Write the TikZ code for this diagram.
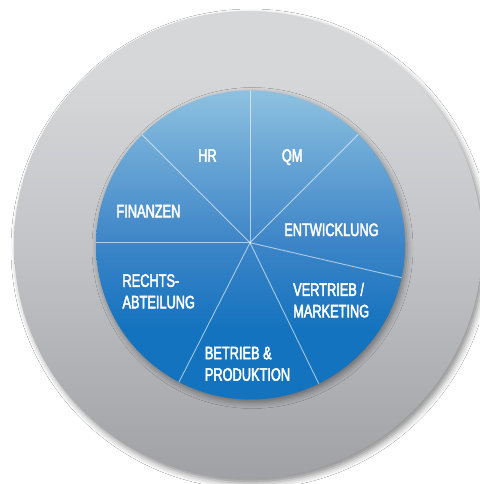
\documentclass[tikz,border=0pt]{standalone}
\usepackage{fontspec}
\setmainfont{Liberation Sans}[FakeStretch=0.71,FakeBold=2.5]
\usetikzlibrary{shadows.blur}
\definecolor{btop}{RGB}{142,193,224}
\definecolor{bupper}{RGB}{108,168,214}
\definecolor{bmid}{RGB}{60,132,199}
\definecolor{bbot}{RGB}{19,115,190}
\definecolor{gtop}{RGB}{214,215,217}
\definecolor{gmid}{RGB}{195,196,199}
\definecolor{gbot}{RGB}{160,161,165}
\pgfdeclareverticalshading{blueshade}{100bp}{color(0bp)=(bbot); color(25bp)=(bbot); color(36bp)=(bbot); color(50bp)=(bmid); color(65bp)=(bupper); color(75bp)=(btop); color(100bp)=(btop)}
\pgfdeclareverticalshading{grayshade}{100bp}{color(0bp)=(gbot); color(25bp)=(gbot); color(50bp)=(gmid); color(68bp)=(gtop); color(100bp)=(gtop)}
\begin{document}
\begin{tikzpicture}[x=1pt,y=-1pt,
  lbl/.style={text=white, inner sep=0pt, anchor=base west, align=left,
    font=\fontsize{18}{21.5}\selectfont},
  spoke/.style={draw=white, draw opacity=0.6, line width=0.9pt}]
\fill[white] (0,0) rectangle (479,484);
\useasboundingbox (0,0) rectangle (479,484);
\path[shading=grayshade, blur shadow={shadow xshift=3pt, shadow yshift=-4pt, shadow blur radius=6pt, shadow opacity=45}] (248,245) circle (234);
\path[shading=blueshade, blur shadow={shadow xshift=2pt, shadow yshift=-3pt, shadow blur radius=6pt, shadow opacity=40}] (250.5,245) circle (154.5);
\coordinate (ctr) at (250,242.7);
\begin{scope}
  \clip (250.5,245) circle (154.5);
  \foreach \a in {-90,-135,180,117,64,13,-45}
    \draw[spoke] (ctr) -- ++(\a:170);
\end{scope}
\node[lbl] (hr) at (198,161.7) {HR};
\node[lbl] (qm) at (281.7,161.7) {QM};
\node[lbl] (fin) at (116.3,217.3) {FINANZEN};
\node[lbl] (ent) at (284,236) {ENTWICKLUNG};
\node[lbl] (ver) at (293,317.3) {VERTRIEB /\\MARKETING};
\node[lbl] (rec) at (122.3,308.3) {RECHTS-\\ABTEILUNG};
\node[lbl] (bet) at (204.7,380.7) {BETRIEB \&\\PRODUKTION};
\end{tikzpicture}
\end{document}
